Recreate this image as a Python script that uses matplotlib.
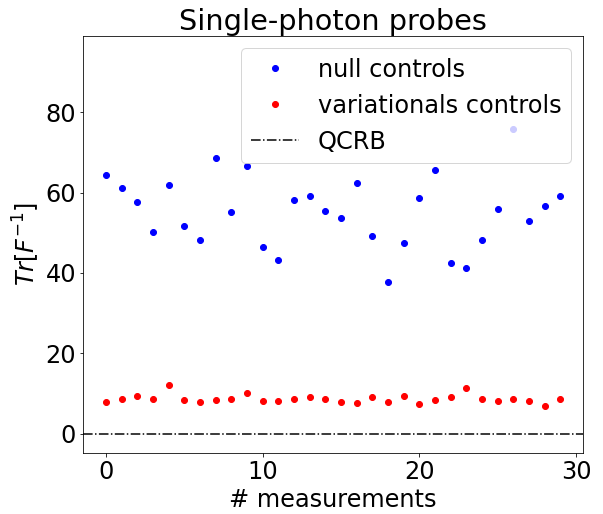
import numpy as np
import matplotlib
matplotlib.use("Agg")
import matplotlib.pyplot as plt

# values
measurements = np.arange(30)
null_controls = [64.3, 61.2, 57.6, 50.2, 61.9, 51.8, 48.2, 68.5, 55.2, 66.5,
                 46.4, 43.2, 58.1, 59.1, 55.5, 53.7, 62.5, 49.2, 37.8, 47.4,
                 58.6, 65.6, 42.5, 41.3, 48.3, 55.9, 75.8, 52.9, 56.6, 59.1]
variational_controls = [7.8, 8.7, 9.3, 8.7, 12.2, 8.3, 7.9, 8.3, 8.7, 10.2,
                        8.2, 8.2, 8.5, 9.1, 8.7, 7.8, 7.7, 9.2, 7.8, 9.3,
                        7.3, 8.3, 9.0, 11.3, 8.5, 8.0, 8.5, 8.2, 6.9, 8.7]
qcrb = 0.0

plt.rcParams['font.size'] = 24

fig = plt.figure(figsize=(603/72, 514/72), dpi=72)
ax = fig.add_subplot(111)
fig.subplots_adjust(left=0.138, right=0.967, bottom=0.119, top=0.930)

ax.plot(measurements, null_controls, 'bo', label='null controls')
ax.plot(measurements, variational_controls, 'ro', label='variationals controls')
ax.axhline(qcrb, color='k', linestyle='-.', label='QCRB')

ax.set_ylim(-4.8, 99)
ax.set_xlabel('# measurements')
ax.set_ylabel(r'$Tr[F^{-1}]$')
ax.set_title('Single-photon probes')
ax.legend(loc='upper right')

fig.savefig('out.png', dpi=72)
